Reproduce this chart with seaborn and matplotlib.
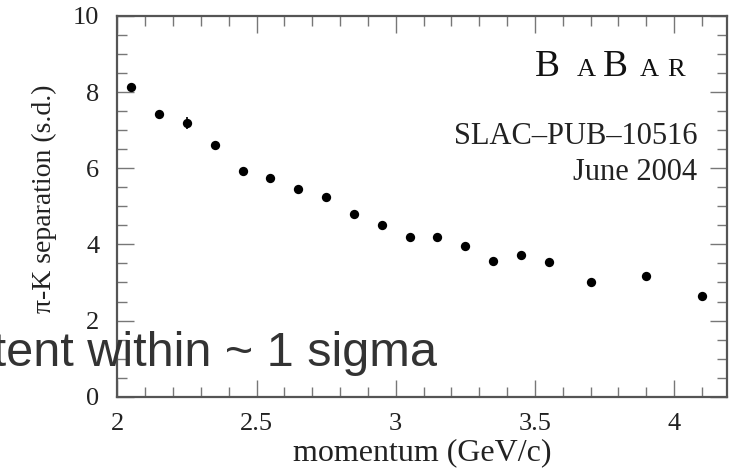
import matplotlib
matplotlib.use("Agg")
import matplotlib.pyplot as plt
import seaborn as sns
import numpy as np
import pandas as pd
from matplotlib.ticker import MultipleLocator

momentum = [2.05, 2.15, 2.25, 2.35, 2.45, 2.55, 2.65, 2.75, 2.85, 2.95,
            3.05, 3.15, 3.25, 3.35, 3.45, 3.55, 3.70, 3.90, 4.10]
separation = [8.13, 7.43, 7.18, 6.61, 5.93, 5.75, 5.45, 5.24, 4.81, 4.52,
              4.19, 4.19, 3.96, 3.57, 3.71, 3.55, 3.02, 3.17, 2.65]
sep_err = [0.06, 0.06, 0.16, 0.06, 0.06, 0.06, 0.06, 0.06, 0.06, 0.06,
           0.06, 0.06, 0.06, 0.08, 0.10, 0.08, 0.06, 0.10, 0.06]

x_ticks = [2, 2.5, 3, 3.5, 4]
y_ticks = [0, 2, 4, 6, 8, 10]

df = pd.DataFrame({"p": momentum, "sep": separation, "err": sep_err})

sns.set_theme(style="white")
plt.rcParams["font.family"] = ["Liberation Serif", "DejaVu Serif"]

W, H = 731, 469
fig = plt.figure(figsize=(W / 100, H / 100), dpi=100)
ax = fig.add_axes([117.3 / W, 1 - 396.7 / H, (727 - 117.3) / W, (396.7 - 16) / H])

ax.errorbar(df["p"], df["sep"], yerr=df["err"], fmt="none", ecolor="black",
            elinewidth=1.2, capsize=0, zorder=2)
sns.scatterplot(data=df, x="p", y="sep", ax=ax, color="black", s=45,
                marker="o", edgecolor="black", linewidth=0, zorder=3)

ax.set_xlim(2, 4.19)
ax.set_ylim(0, 10)
ax.set_xticks(x_ticks)
ax.set_xticklabels([f"{t:g}" for t in x_ticks])
ax.set_yticks(y_ticks)
ax.set_yticklabels([f"{t:g}" for t in y_ticks])
ax.xaxis.set_minor_locator(MultipleLocator(0.1))
ax.yaxis.set_minor_locator(MultipleLocator(0.5))

for s in ax.spines.values():
    s.set_visible(True)
    s.set_color("#555555")
    s.set_linewidth(1.6)

ax.tick_params(which="both", direction="in", top=True, right=True,
               bottom=True, left=True, color="#777777", width=1.0,
               labelsize=19, labelcolor="#222222")
ax.tick_params(which="major", length=12)
ax.tick_params(which="minor", length=7)
ax.tick_params(axis="y", which="major", pad=13)
ax.tick_params(axis="x", which="major", pad=12)

ax.set_xlabel("momentum (GeV/c)", fontsize=23, color="#222222", labelpad=2)
ax.set_ylabel("π-K separation (s.d.)", fontsize=20, color="#222222")
ax.yaxis.set_label_coords(-0.099, 0.519)

# BaBar logo (small caps), placed in figure pixels
def fx(px):
    return px / W

def fy(py):
    return 1 - py / H

logo = [("B", 535, 27), ("A", 577, 19), ("B", 603, 27), ("A", 640, 19), ("R", 667, 19)]
for ch, px, size in logo:
    fig.text(fx(px), fy(76), ch, fontsize=size, ha="left", va="baseline",
             color="#111111")

fig.text(fx(697), fy(144), "SLAC–PUB–10516", fontsize=22, ha="right",
         va="baseline", color="#222222")
fig.text(fx(697), fy(180), "June 2004", fontsize=22, ha="right",
         va="baseline", color="#222222")

fig.text(fx(437), fy(366), "consistent within ~ 1 sigma",
         fontsize=35, ha="right", va="baseline", color="#333333",
         family=["Liberation Sans", "DejaVu Sans"])

fig.savefig("out.png", dpi=100)
